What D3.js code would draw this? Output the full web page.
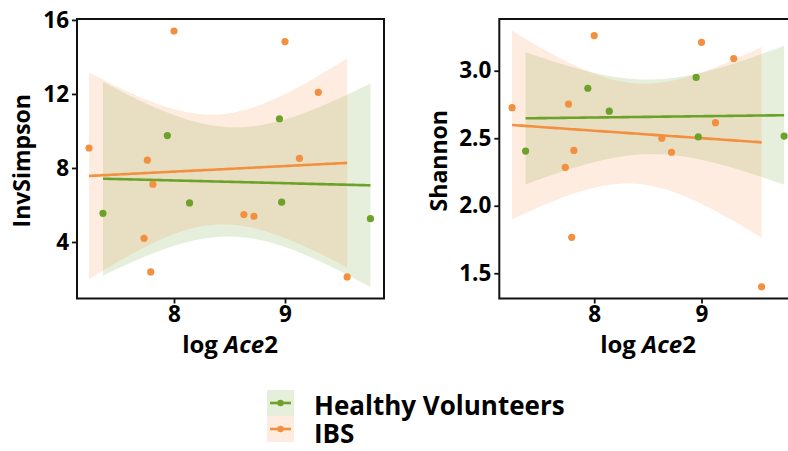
<!DOCTYPE html>
<html>
  <head>
    <title>Ace2 vs diversity</title>
    <script src="https://cdn.jsdelivr.net/npm/d3@7"></script>
    <style>
      body { margin: 0; background: #fff; }
      text { font-family: "Open Sans", "DejaVu Sans", sans-serif; font-weight: 700; fill: #000; }
    </style>
  </head>
  <body>
    <svg width="788" height="451" id="mainsvg"></svg>
    <script>
    // values
    const groups = ['Healthy Volunteers', 'IBS'];
    const hvAce2 = [7.36, 7.94, 8.14, 8.95, 8.97, 9.77];
    const hvInvSimpson = [5.55, 9.75, 6.11, 10.66, 6.15, 5.26];
    const hvShannon = [2.405, 2.87, 2.70, 2.95, 2.51, 2.516];
    const ibsAce2 = [7.234, 7.73, 7.76, 7.79, 7.81, 8.0, 8.63, 8.72, 9.0, 9.13, 9.30, 9.56];
    const ibsInvSimpson = [9.08, 4.2, 8.42, 2.38, 7.12, 15.4, 5.48, 5.39, 14.83, 8.52, 12.09, 2.11];
    const ibsShannon = [2.726, 2.284, 2.753, 1.766, 2.41, 3.26, 2.50, 2.396, 3.21, 2.615, 3.09, 1.40];
    const invTicks = [4, 8, 12, 16];
    const shanTicks = [1.5, 2.0, 2.5, 3.0];
    const xTicks = [8, 9];

    const colors = {'Healthy Volunteers': '#6ca22a', 'IBS': '#f3903f'};
    // t quantile (0.975) by degrees of freedom
    const tq = {4: 2.776, 10: 2.228};

    let svg = d3.select('#mainsvg');

    // linear fit + 95% confidence band, like geom_smooth(method = "lm")
    function lmBand(xs, ys) {
        const n = xs.length;
        const mx = d3.mean(xs), my = d3.mean(ys);
        let sxx = 0, sxy = 0;
        xs.forEach((x, i) => { sxx += (x - mx) ** 2; sxy += (x - mx) * (ys[i] - my); });
        const b = sxy / sxx, a = my - b * mx;
        let sse = 0;
        xs.forEach((x, i) => { sse += (ys[i] - a - b * x) ** 2; });
        const s = Math.sqrt(sse / (n - 2));
        const t = tq[n - 2];
        const [x0, x1] = d3.extent(xs);
        return d3.range(80).map(k => {
            const x = x0 + (x1 - x0) * k / 79;
            const fit = a + b * x;
            const se = s * Math.sqrt(1 / n + (x - mx) ** 2 / sxx);
            return {x: x, fit: fit, lo: fit - t * se, hi: fit + t * se};
        });
    }

    function panel(cfg) {
        const x = d3.scaleLinear().domain(cfg.xdom).range(cfg.xr);
        const y = d3.scaleLinear().domain(cfg.ydom).range(cfg.yr);
        const g = svg.append('g');

        const data = [
            {name: groups[0], xs: hvAce2, ys: cfg.hv},
            {name: groups[1], xs: ibsAce2, ys: cfg.ibs}
        ];
        data.forEach(d => d.band = lmBand(d.xs, d.ys));

        g.selectAll('path.band').data(data).join('path')
        .attr('class', 'band')
        .attr('fill', d => colors[d.name])
        .attr('fill-opacity', 0.17)
        .attr('d', d => d3.area().x(p => x(p.x)).y0(p => y(p.lo)).y1(p => y(p.hi))(d.band));

        g.selectAll('path.fit').data(data).join('path')
        .attr('class', 'fit')
        .attr('fill', 'none')
        .attr('stroke', d => colors[d.name])
        .attr('stroke-width', 2.6)
        .attr('d', d => d3.line().x(p => x(p.x)).y(p => y(p.fit))(d.band));

        data.forEach(d => {
            g.append('g').selectAll('circle').data(d.xs).join('circle')
            .attr('cx', v => x(v))
            .attr('cy', (v, i) => y(d.ys[i]))
            .attr('r', 3.6)
            .attr('fill', colors[d.name]);
        });

        // frame
        g.append('rect')
        .attr('x', cfg.xr[0]).attr('y', cfg.yr[1])
        .attr('width', cfg.xr[1] - cfg.xr[0]).attr('height', cfg.yr[0] - cfg.yr[1])
        .attr('fill', 'none').attr('stroke', '#111').attr('stroke-width', 2);

        const ya = g.append('g').attr('transform', `translate(${cfg.xr[0]},0)`)
        .call(d3.axisLeft(y).tickValues(cfg.yticks).tickFormat(cfg.yfmt).tickSize(5).tickPadding(3));
        const xa = g.append('g').attr('transform', `translate(0,${cfg.yr[0]})`)
        .call(d3.axisBottom(x).tickValues(xTicks).tickFormat(d3.format('d')).tickSize(5).tickPadding(3));
        [ya, xa].forEach(a => {
            a.select('.domain').remove();
            a.selectAll('line').attr('stroke', '#111').attr('stroke-width', 1.8);
            a.selectAll('text').style('font-size', '22.5px').style('font-family', '"Open Sans", sans-serif')
            .style('font-weight', 700).attr('fill', '#000');
        });

        g.append('text')
        .attr('transform', `translate(${cfg.ytx},${(cfg.yr[0] + cfg.yr[1]) / 2 + 2}) rotate(-90)`)
        .attr('text-anchor', 'middle')
        .style('font-size', '23px')
        .text(cfg.ylab);

        const xt = g.append('text')
        .attr('x', cfg.xtx).attr('y', 353)
        .attr('text-anchor', 'middle')
        .style('font-size', '24px');
        xt.append('tspan').text('log ');
        xt.append('tspan').attr('font-style', 'italic').text('Ace');
        xt.append('tspan').text('2');
    }

    panel({xdom: [7.126, 9.892], xr: [77, 384], ydom: [0.946, 16.05], yr: [298.5, 19],
           hv: hvInvSimpson, ibs: ibsInvSimpson, yticks: invTicks, yfmt: d3.format('d'),
           ylab: 'InvSimpson', ytx: 30, xtx: 230});
    panel({xdom: [7.115, 9.89], xr: [499.3, 797], ydom: [1.313, 3.383], yr: [298.5, 19],
           hv: hvShannon, ibs: ibsShannon, yticks: shanTicks, yfmt: d3.format('.1f'),
           ylab: 'Shannon', ytx: 447, xtx: 648});

    // legend
    const leg = svg.append('g').selectAll('g').data(groups).join('g')
    .attr('transform', (d, i) => `translate(267,${390 + i * 26})`);
    leg.append('rect').attr('width', 27).attr('height', 26)
    .attr('fill', d => colors[d]).attr('fill-opacity', 0.17);
    leg.append('line').attr('x1', 3).attr('x2', 24).attr('y1', 13).attr('y2', 13)
    .attr('stroke', d => colors[d]).attr('stroke-width', 2.6);
    leg.append('circle').attr('cx', 13.5).attr('cy', 13).attr('r', 3.2)
    .attr('fill', d => colors[d]);
    leg.append('text').attr('x', 47).attr('y', (d, i) => 25 + i * 2)
    .style('font-size', '26px')
    .text(d => d);
    </script>
  </body>
</html>
